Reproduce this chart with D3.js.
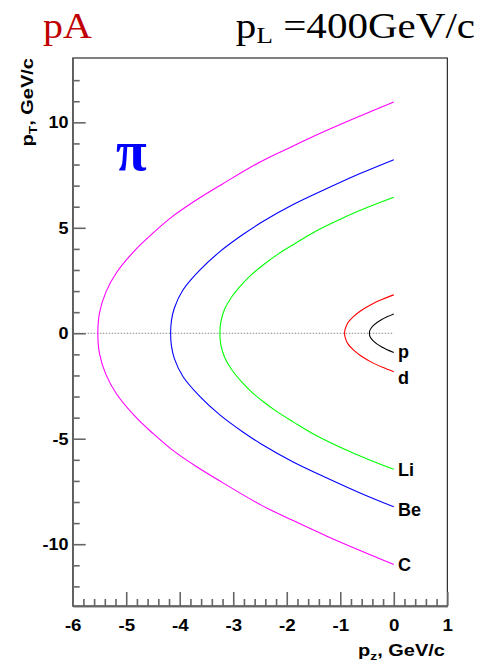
<!DOCTYPE html>
<html>
<head>
<meta charset="utf-8">
<script src="https://cdn.jsdelivr.net/npm/d3@7"></script>
<style>
  body { margin: 0; background: #fff; }
  svg { display: block; }
</style>
</head>
<body>
<svg id="chart" width="479" height="667"></svg>
<script>
// Kinematic boundaries (pz, pT in GeV/c) for pion production, pA at pL = 400 GeV/c
const curveC  = [[0, 10.96], [-0.63, 10.3], [-1.25, 9.62], [-1.88, 8.88], [-2.47, 8.16], [-3.2, 7.08], [-3.69, 6.32], [-4.14, 5.53], [-4.5, 4.75], [-4.82, 3.98], [-5.18, 2.88], [-5.38, 1.95], [-5.5, 0.95], [-5.53, 0],
                 [-5.5, -0.95], [-5.38, -1.95], [-5.18, -2.88], [-4.82, -3.98], [-4.5, -4.75], [-4.14, -5.53], [-3.69, -6.32], [-3.2, -7.08], [-2.47, -8.16], [-1.88, -8.88], [-1.25, -9.62], [-0.63, -10.3], [0, -10.96]];
const curveBe = [[0, 8.23], [-0.63, 7.57], [-1.25, 6.86], [-1.88, 6.1], [-2.47, 5.26], [-2.82, 4.68], [-3.25, 3.87], [-3.63, 2.98], [-3.94, 2.05], [-4.1, 1.2], [-4.155, 0.6], [-4.17, 0],
                 [-4.155, -0.6], [-4.1, -1.2], [-3.94, -2.05], [-3.63, -2.98], [-3.25, -3.87], [-2.82, -4.68], [-2.47, -5.26], [-1.88, -6.1], [-1.25, -6.86], [-0.63, -7.57], [0, -8.23]];
const curveLi = [[0, 6.45], [-0.44, 6.02], [-0.94, 5.48], [-1.45, 4.85], [-1.88, 4.2], [-2.17, 3.74], [-2.43, 3.26], [-2.65, 2.8], [-2.83, 2.34], [-3.03, 1.72], [-3.16, 1.15], [-3.23, 0.56], [-3.25, 0],
                 [-3.23, -0.56], [-3.16, -1.15], [-3.03, -1.72], [-2.83, -2.34], [-2.65, -2.8], [-2.43, -3.26], [-2.17, -3.74], [-1.88, -4.2], [-1.45, -4.85], [-0.94, -5.48], [-0.44, -6.02], [0, -6.45]];
const curveD  = [[0, 1.82], [-0.21, 1.61], [-0.41, 1.38], [-0.61, 1.08], [-0.75, 0.8], [-0.86, 0.49], [-0.91, 0.18], [-0.92, 0],
                 [-0.91, -0.18], [-0.86, -0.49], [-0.75, -0.8], [-0.61, -1.08], [-0.41, -1.38], [-0.21, -1.61], [0, -1.82]];
const curveP  = [[0, 0.91], [-0.225, 0.65], [-0.38, 0.37], [-0.445, 0.15], [-0.456, 0],
                 [-0.445, -0.15], [-0.38, -0.37], [-0.225, -0.65], [0, -0.91]];

const curveNames = ["C", "Be", "Li", "d", "p"];
// label anchors in data coordinates (pz, pT)
const labelPz = [0.08, 0.08, 0.08, 0.08, 0.08];
const labelPt = [-11.28, -8.64, -6.76, -2.40, -1.17];

const xMajorTicks = [-6, -5, -4, -3, -2, -1, 0, 1];
const yMajorTicks = [-10, -5, 0, 5, 10];
const xMinorTicks = d3.range(-6, 1.0001, 0.2).map(v => +v.toFixed(1)).filter(v => !xMajorTicks.includes(v));
const yMinorTicks = d3.range(-12, 12.0001, 1).filter(v => !yMajorTicks.includes(v));

const curves = [curveC, curveBe, curveLi, curveD, curveP];
const colors = ["#ff00ff", "#0000ff", "#00ff00", "#ff0000", "#000000"];

const svg = d3.select("#chart");
const L = 72.7, R = 447.3, T = 58, B = 606;
const x = d3.scaleLinear().domain([-6, 1]).range([L, R]);
const y = d3.scaleLinear().domain([-12.93, 13.05]).range([B, T]);

const sans = "'Liberation Sans', Arial, Helvetica, sans-serif";
const serif = "'Liberation Serif', 'Times New Roman', Times, serif";

// frame
svg.append("rect")
  .attr("x", L).attr("y", T).attr("width", R - L).attr("height", B - T)
  .attr("fill", "none").attr("stroke", "#000").attr("stroke-width", 1);

// pT = 0 reference line
svg.append("line")
  .attr("x1", x(-6)).attr("x2", x(0)).attr("y1", y(0)).attr("y2", y(0))
  .attr("stroke", "#888").attr("stroke-width", 1).attr("stroke-dasharray", "1.5,1.5");

// curves
const line = d3.line().x(d => x(d[0])).y(d => y(d[1])).curve(d3.curveCatmullRom.alpha(0.5));
svg.append("g").selectAll("path").data(curves).join("path")
  .attr("d", line)
  .attr("fill", "none")
  .attr("stroke", (d, i) => colors[i])
  .attr("stroke-width", 1.1);

// curve labels
svg.append("g").selectAll("text").data(curveNames).join("text")
  .attr("x", (d, i) => x(labelPz[i]))
  .attr("y", (d, i) => y(labelPt[i]))
  .attr("font-family", sans).attr("font-weight", "bold").attr("font-size", 18)
  .attr("fill", "#000")
  .text(d => d);

// axes
const axisColor = "#666";
function styleAxis(g) {
  g.select(".domain").attr("stroke", axisColor).attr("stroke-width", 1.6);
  g.selectAll(".tick line").attr("stroke", axisColor).attr("stroke-width", 1.6);
  g.selectAll(".tick text").attr("font-family", sans).attr("font-weight", "bold")
    .attr("font-size", 17).attr("fill", "#000");
}
const fmt = d => d3.format("d")(d).replace("\u2212", "-");

svg.append("g").attr("transform", `translate(${L},0)`)
  .call(d3.axisLeft(y).tickValues(yMinorTicks).tickSize(-7).tickSizeOuter(0).tickFormat(""))
  .call(styleAxis);
const gy = svg.append("g").attr("transform", `translate(${L},0)`)
  .call(d3.axisLeft(y).tickValues(yMajorTicks).tickSize(-13).tickSizeOuter(0).tickPadding(4).tickFormat(fmt))
  .call(styleAxis);
gy.selectAll(".tick text").attr("transform", "scale(1.06,1)");

svg.append("g").attr("transform", `translate(0,${B})`)
  .call(d3.axisBottom(x).tickValues(xMinorTicks).tickSize(-7).tickSizeOuter(0).tickFormat(""))
  .call(styleAxis);
const gx = svg.append("g").attr("transform", `translate(0,${B})`)
  .call(d3.axisBottom(x).tickValues(xMajorTicks).tickSize(-14).tickSizeOuter(0).tickPadding(13).tickFormat(fmt))
  .call(styleAxis);
gx.selectAll(".tick text").attr("transform", "scale(1.1,1)");

// axis titles
const xt = svg.append("text")
  .attr("transform", "translate(445,656) scale(1.25,1)")
  .attr("text-anchor", "end")
  .attr("font-family", sans).attr("font-weight", "bold").attr("font-size", 16);
xt.append("tspan").text("p");
xt.append("tspan").attr("dy", 4).attr("font-size", 11).text("z");
xt.append("tspan").attr("dy", -4).text(", GeV/c");

const yt = svg.append("text")
  .attr("transform", "translate(33,58) rotate(-90) scale(1.25,1)")
  .attr("text-anchor", "end")
  .attr("font-family", sans).attr("font-weight", "bold").attr("font-size", 16);
yt.append("tspan").text("p");
yt.append("tspan").attr("dy", 4).attr("font-size", 11).text("T");
yt.append("tspan").attr("dy", -4).text(", GeV/c");

// header
svg.append("text")
  .attr("transform", "translate(43,38) scale(1.14,1)")
  .attr("font-family", serif).attr("font-size", 35).attr("fill", "#c00000")
  .text("pA");

const ht = svg.append("text")
  .attr("transform", "translate(475,38) scale(1.14,1)")
  .attr("text-anchor", "end")
  .attr("font-family", serif).attr("font-size", 36).attr("fill", "#000");
ht.append("tspan").text("p");
ht.append("tspan").attr("dy", 5).attr("font-size", 24).text("L");
ht.append("tspan").attr("dy", -5).text(" =400GeV/c");

// particle symbol
svg.append("text")
  .attr("x", 116).attr("y", 170)
  .attr("font-family", serif).attr("font-weight", "bold").attr("font-size", 56).attr("fill", "#0000ff")
  .text("π");
</script>
</body>
</html>
